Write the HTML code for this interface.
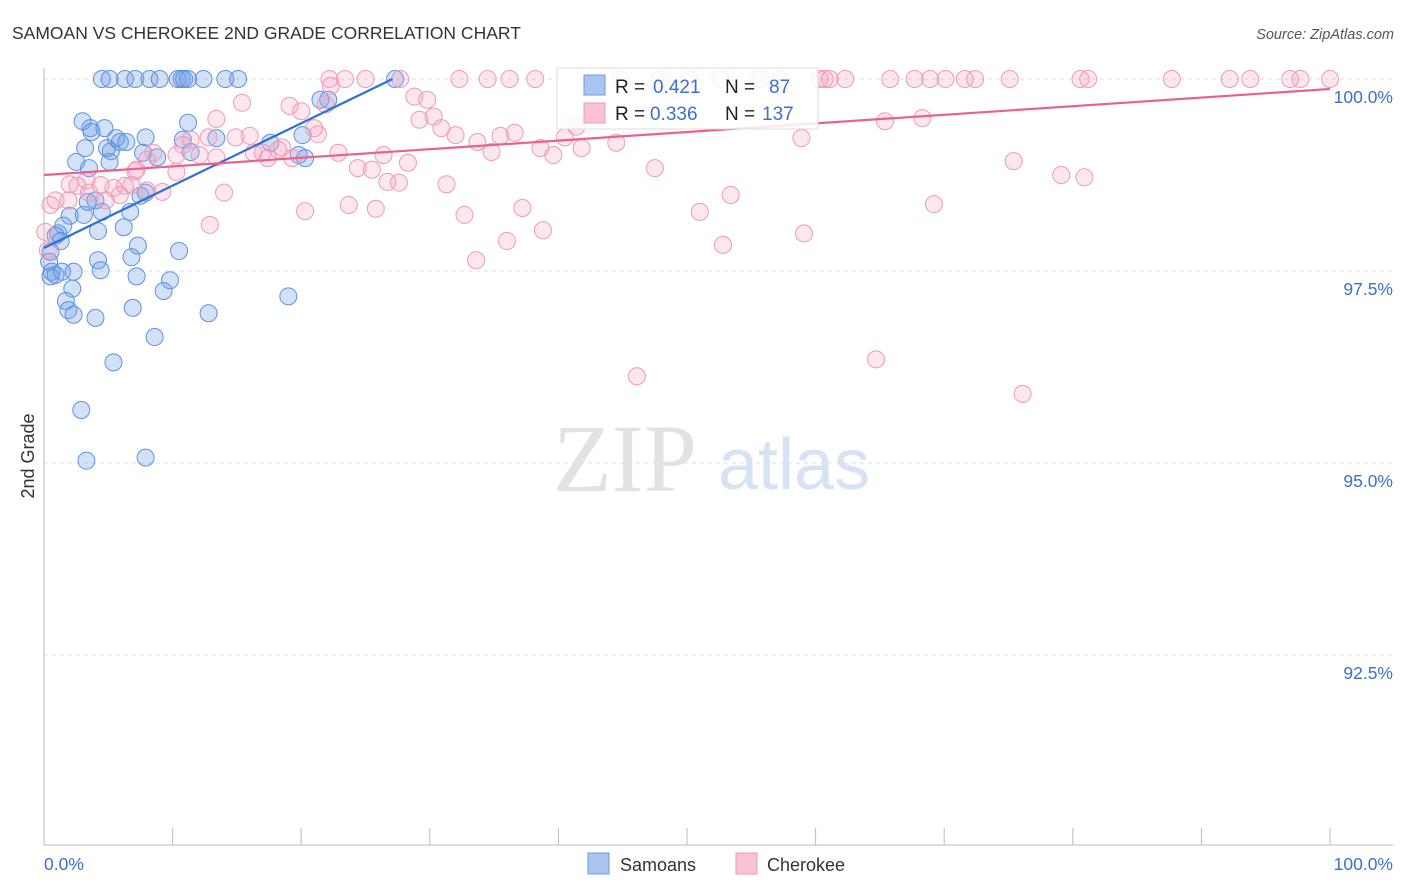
<!DOCTYPE html>
<html><head><meta charset="utf-8"><style>
body{margin:0;background:#fff;font-family:"Liberation Sans",sans-serif;}
svg{display:block}
</style></head><body>
<svg id="chart" width="1406" height="892" xmlns="http://www.w3.org/2000/svg">
<text x="12" y="39" font-size="17.5" fill="#333">SAMOAN VS CHEROKEE 2ND GRADE CORRELATION CHART</text>
<text x="1394" y="39" font-size="14.5" fill="#555" text-anchor="end" font-style="italic">Source: ZipAtlas.com</text>
<g>
<text x="553" y="491" font-family="Liberation Serif,serif" font-size="96" fill="#e2e2e2">ZIP</text>
<text x="718" y="489" font-size="72" fill="#d6e3f5">atlas</text>
</g>
<g id="grid"></g>
<g id="axes"></g>
<g id="marks"></g>
<g id="trends"></g>
<g>
<rect x="557" y="68" width="261" height="61" fill="#fff" fill-opacity="0.85" stroke="#ddd"/>
<rect x="584" y="75" width="21" height="20" fill="#a9c4ee" stroke="#6c9be0"/>
<rect x="584" y="103" width="21" height="20" fill="#f9c3d3" stroke="#ef9ab5"/>
<g font-size="19">
<text x="615" y="93" fill="#222">R = </text><text x="653" y="93" fill="#3b6fd0">0.421</text>
<text x="725" y="93" fill="#222">N = </text><text x="769" y="93" fill="#3b6fd0">87</text>
<text x="615" y="120" fill="#222">R = </text><text x="650" y="120" fill="#3b6fd0">0.336</text>
<text x="725" y="120" fill="#222">N = </text><text x="762" y="120" fill="#3b6fd0">137</text>
</g>
</g>
<g>
<rect x="588" y="853" width="21" height="21" fill="#a9c4ee" stroke="#6c9be0"/>
<text x="620" y="871" font-size="18" fill="#333">Samoans</text>
<rect x="736" y="853" width="21" height="21" fill="#f9c3d3" stroke="#ef9ab5"/>
<text x="767" y="871" font-size="18" fill="#333">Cherokee</text>
</g>
<text transform="translate(34,456) rotate(-90)" font-size="18" fill="#333" text-anchor="middle">2nd Grade</text>
</svg>
<script>
const yTicks=[100,97.5,95,92.5];
const yTickLabels=["100.0%","97.5%","95.0%","92.5%"];
const xTickLabels=["0.0%","100.0%"];
const samoanX=[4.5,5.1,6.3,7.1,8.2,9.0,10.4,10.7,10.9,11.2,12.4,14.1,15.1,27.3,3.0,3.6,3.7,4.7,3.2,2.5,3.5,4.9,5.2,5.6,5.9,6.4,7.9,7.7,8.8,11.2,13.4,10.8,11.4,5.1,2.0,3.1,3.4,4.0,4.5,6.7,6.2,4.2,1.5,1.1,0.9,1.3,0.5,0.4,0.6,0.5,0.9,1.4,2.3,4.2,4.4,6.8,7.3,10.5,7.2,9.8,9.3,2.2,1.7,1.9,2.3,4.0,6.9,12.8,8.6,5.4,2.9,3.3,7.9,19.0,20.1,19.8,20.3,17.6,21.5,22.1,7.9,7.5];
const samoanY=[100,100,100,100,100,100,100,100,100,100,100,100,100,100,99.45,99.36,99.31,99.36,99.10,98.92,98.84,99.10,99.06,99.23,99.18,99.18,99.24,99.04,98.98,99.43,99.23,99.21,99.05,98.92,98.22,98.23,98.40,98.42,98.27,98.27,98.07,98.02,98.09,97.99,97.96,97.89,97.75,97.62,97.49,97.43,97.45,97.49,97.49,97.64,97.51,97.68,97.83,97.76,97.43,97.38,97.24,97.27,97.11,96.99,96.93,96.89,97.02,96.95,96.64,96.31,95.69,95.03,95.07,97.17,99.27,99.01,98.97,99.17,99.73,99.73,98.52,98.48];
const cherokeeX=[22.2,23.4,25.0,27.7,32.3,34.5,36.2,38.2,44.8,47.9,50.2,52.6,55.7,57.2,60.3,60.7,61.1,62.3,65.8,67.7,68.9,70.1,71.6,72.4,75.1,80.6,81.2,87.7,92.2,93.8,96.9,97.7,100,22.3,21.9,15.4,13.4,12.8,14.9,16.0,17.0,18.5,16.3,17.4,18.2,13.4,11.4,10.8,10.3,12.1,8.5,8.0,10.3,7.2,4.4,3.3,2.6,2.0,0.9,0.5,1.9,3.5,5.4,6.3,6.8,8.0,9.2,5.9,4.8,14.0,12.9,20.3,7.1,19.1,20.0,21.0,21.3,19.3,22.9,24.4,25.5,26.7,27.6,23.7,25.8,26.4,28.3,28.8,29.8,29.2,30.3,30.9,32.0,33.7,34.8,35.5,36.6,31.3,32.7,33.6,36.0,37.2,38.8,38.6,39.6,40.5,41.4,41.8,44.5,46.1,47.5,51.0,52.8,53.4,58.9,59.1,64.7,65.4,68.3,69.2,75.4,76.1,79.1,80.9,0.1,0.3];
const cherokeeY=[100,100,100,100,100,100,100,100,100,100,100,100,100,100,100,100,100,100,100,100,100,100,100,100,100,100,100,100,100,100,100,100,100,99.91,99.67,99.69,99.48,99.24,99.24,99.26,99.04,99.11,99.04,98.97,99.08,98.98,99.21,99.14,99.01,99.01,99.04,98.95,98.79,98.82,98.62,98.68,98.61,98.63,98.42,98.36,98.42,98.52,98.58,98.61,98.62,98.55,98.53,98.49,98.42,98.52,98.10,98.28,98.80,99.65,99.58,99.36,99.28,98.97,99.04,98.84,98.82,98.66,98.65,98.36,98.31,99.01,98.91,99.77,99.73,99.47,99.51,99.36,99.27,99.18,99.05,99.26,99.30,98.63,98.23,97.64,97.89,98.32,98.03,99.10,99.01,99.24,99.38,99.10,99.17,96.13,98.84,98.27,97.84,98.49,99.23,97.99,96.35,99.45,99.49,98.37,98.93,95.90,98.75,98.72,98.01,97.77];
const samoanTrendX=[0,27.1];
const samoanTrendY=[97.8,100];
const cherokeeTrendX=[0,100];
const cherokeeTrendY=[98.75,99.87];

const X0=44,X1=1330,Y0=79,YB=845,ymin=90.026;
const sx=v=>X0+(v/100)*(X1-X0);
const sy=v=>Y0+(100-v)/(100-ymin)*(YB-Y0);
const NS="http://www.w3.org/2000/svg";
function mk(tag,attrs,parent){const e=document.createElementNS(NS,tag);for(const k in attrs)e.setAttribute(k,attrs[k]);parent.appendChild(e);return e;}
const grid=document.getElementById('grid'),axes=document.getElementById('axes'),marks=document.getElementById('marks'),trends=document.getElementById('trends');
yTicks.forEach((t,i)=>{
  const l=mk('line',{x1:X0,x2:1393,y1:sy(t),y2:sy(t),stroke:'#ddd','stroke-dasharray':'4,4'},grid);
  
  
  const tx=mk('text',{x:1393,y:sy(t)+24,'text-anchor':'end','font-size':17.5,fill:'#3b6fd0'},grid);
  tx.textContent=yTickLabels[i];
  
  
});
const ya=mk('line',{x1:X0,x2:X0,y1:68,y2:YB,stroke:'#bbb'},axes);


const xa=mk('line',{x1:X0,x2:1393,y1:YB,y2:YB,stroke:'#bbb'},axes);


for(let i=0;i<=10;i++){
  const tk=mk('line',{x1:sx(i*10),x2:sx(i*10),y1:828,y2:YB,stroke:'#bbb'},axes);
  
  
}
[0,100].forEach((v,i)=>{
  const tx=mk('text',{x:i?1393:X0,y:870,'text-anchor':i?'end':'start','font-size':17.5,fill:'#3b6fd0'},axes);
  tx.textContent=xTickLabels[i];
  
  
});
samoanX.forEach((x,i)=>{
  const c=mk('circle',{cx:sx(x),cy:sy(samoanY[i]),r:8.5,fill:'rgba(110,155,230,0.3)',stroke:'#5f92e0','stroke-width':1},marks);
  
  
});
cherokeeX.forEach((x,i)=>{
  const c=mk('circle',{cx:sx(x),cy:sy(cherokeeY[i]),r:8.5,fill:'rgba(245,160,190,0.25)',stroke:'#ef9ab5','stroke-width':1},marks);
  
  
});
const t1=mk('line',{x1:sx(samoanTrendX[0]),y1:sy(samoanTrendY[0]),x2:sx(samoanTrendX[1]),y2:sy(samoanTrendY[1]),stroke:'#2f6fd6','stroke-width':2.2},trends);


const t2=mk('line',{x1:sx(cherokeeTrendX[0]),y1:sy(cherokeeTrendY[0]),x2:sx(cherokeeTrendX[1]),y2:sy(cherokeeTrendY[1]),stroke:'#e8628d','stroke-width':2.2},trends);


</script>
</body></html>
